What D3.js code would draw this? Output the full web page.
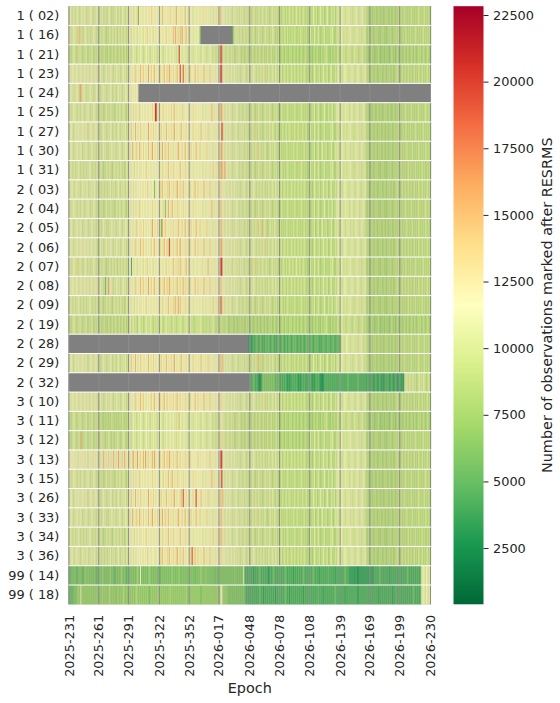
<!DOCTYPE html>
<html lang="en">
<head>
<meta charset="UTF-8">
<title>RESRMS heatmap</title>
<script src="https://d3js.org/d3.v7.min.js"></script>
<style>
  body { margin: 0; background: #fff; }
</style>
</head>
<body>
<script>
// rows of the heatmap (system ( prn))
const satellites = [
  "1 ( 02)", "1 ( 16)", "1 ( 21)", "1 ( 23)", "1 ( 24)", "1 ( 25)", "1 ( 27)", "1 ( 30)", "1 ( 31)",
  "2 ( 03)", "2 ( 04)", "2 ( 05)", "2 ( 06)", "2 ( 07)", "2 ( 08)", "2 ( 09)", "2 ( 19)", "2 ( 28)",
  "2 ( 29)", "2 ( 32)", "3 ( 10)", "3 ( 11)", "3 ( 12)", "3 ( 13)", "3 ( 15)", "3 ( 26)", "3 ( 33)",
  "3 ( 34)", "3 ( 36)", "99 ( 14)", "99 ( 18)"
];

const tickLabels = [
  "2025-231", "2025-261", "2025-291", "2025-322", "2025-352", "2026-017", "2026-048",
  "2026-078", "2026-108", "2026-139", "2026-169", "2026-199", "2026-230"
];

const firstYear = 2025, firstDoy = 231, nEpochs = 365;
const cbarTicks = [2500, 5000, 7500, 10000, 12500, 15000, 17500, 20000, 22500];
const vmin = 390, vmax = 22830;

// one letter per epoch, "." = no data
const levelKeys = "abcdefghijklmnopqrstuvwxyz";
const levelValues = [600, 1450, 2300, 3150, 4000, 4850, 5700, 6550, 7400, 8250, 9100, 9950, 10800,
  11650, 12600, 13900, 15300, 16300, 17200, 18000, 18700, 19400, 20100, 20800, 21500, 22300];

const rowCodes = [
  // 1 ( 02)
  "lmnkl mlknm lkmnl mnlkm lmnol kmlnm | lkmln klmkl mnlkl kmlnk lmkln mlkml | mnomn lonmp gnonm mnomn omnpo nmonm | nomnq mnonm onpmn omnrn mnomo nmqnm | mnonm lmnom nmomn pnmon mnomn lmnom | nmoqn mnmln mlnml knmlm lmknl mlkml | lkmlk pmlkl kmlkl mlklm kljkl mklkl | kjlkj klkjl jklkj lkjkm kjlkj klkjk | jkmik jnkjm ikjnk jmijk nkjim kjnik | lmklm nlmkl mlnkm lkmln mlkml nmlkm | jkijk jikjk ijkji kjijk jkijk ijkji | kjkjl kjklj kjkjk ljkjk jklkj kjklj kjkjk",
  // 1 ( 16)
  "lmlkm nlmkl pqmlk lmnlk mlkml nmlkl | klmkl mlkjl kmlkm lkmlj mlkml kmlkl | mnmln omnml nomnm lnomp nmonm lnomn | mnonm onmpn monmn qnrmo pnqmr nmoqn | mnomn lmnom nmg.. ..... ..... ..... | ..... ..... ..... fklml mlkml klmkl | lkmlk lmkjl kmlkl jklmk lkjlk mlkjk | jkljk kjlkj ljkjk kjlkj jkjlk kjkjl | ijkmj kinkj jmkij kjnik jkimj nkjik | lkmln mlkml kmlnl mkllm lnkml kmlml | ijkji kjijk jkiji kjkij ijkjk jikjk | kjlkj jkkjl kjkjl jkjkl kjkjk jkljk jkjkj",
  // 1 ( 21)
  "kljkl mlkjl kmlkj lkmlj klkml jklkl | jkljk kljkj lkjkl jklkj kljkl jkljk | lmlkm nlmkl mlnml klmnl mlkml nlmlk | mlnml kmlnm lmnlm nlmkm lxnml mnlml | lmnlm kmlnm lmlkm nlmlk mlnml kmlkl | lmlxs lmlkl mlklm kljkl kmlkj lkjkl | kjlkj lkjkl jklkj kljkj lkjkl jkjkl | jkjij kjikj jikjk ijkji kjijk jijkj | ijkij hjkij kijhk jikjl kijhk jikji | kljkl mklkj lkmkl jklmk lkjlk mlkjl | ijhij kijhj ijkih jijhk ijihj kjijh | jkijk jijkj ikjij kjikj ijkjk ijkji jkjij",
  // 1 ( 23)
  "mnlmn olmnm lmnol mnmln olmnm lnmol | lmnlm klmnl mlnml kmlnm lmklm nlmkl | nmonm nopmn onqno pnomn rnopn mqnon | onpno mqnop nrmon pnomq nmxno vnpmo | nopmn onqnm pnomn oqnmo nmpon mnomn | nmnzs nmnml nmlmn lmnlm lmlkm lnmlk | lmlkm lnmlk mlkml pmlkl kmlkl mlkml | kljkl jklkj lkjkl kjlkj kljkl jklkj | jkmjk ijnkj kjmik jnkjk mijkn jkimj | lmnlm klmnl mlkml nlmkl mnlmk lmlnm | jkjik jkijk jijkj kijkj ikjkj jkijk | kljkj kljkl jkljk kjklj kjlkj kljkj kljkl",
  // 1 ( 24)
  "lmnlm kmlnm lqrml nmlkm lmnlm klmnl | mlkml nlmkl mlnmk lmlkm nlmlk mlnml | mnomn mnonm ..... ..... ..... ..... | ..... ..... ..... ..... ..... ..... | ..... ..... ..... ..... ..... ..... | ..... ..... ..... ..... ..... ..... | ..... ..... ..... ..... ..... ..... | ..... ..... ..... ..... ..... ..... | ..... ..... ..... ..... ..... ..... | ..... ..... ..... ..... ..... ..... | ..... ..... ..... ..... ..... ..... | ..... ..... ..... ..... ..... ..... .....",
  // 1 ( 25)
  "lmlkm nlmkl mlknm lkmln mlkml nmlkl | kmlkl jklmk lkmlk ljkml kmlkl mlkjl | mnomn lnomn mponm nomnm onmnp nmxvo | nmonm pnomn monpn mqnom nomnp monmn | nmomn pnmon mnonm lnmon mnomq nmonm | nmnrq nmlmn lmnml kmlmn mlkml klmlk | lkmlk mlkjl kmlkl jklmk lkmlk jklkl | kjkjl kjkjk lkjkj kjlkj jkjkl kjkjk | jkmij kjnik jmkij kjnkj imjkj nikjm | lmnkl mlknm lmlkm nlkml mnlkm lmnlk | jkijk ijkji jkjik jijkj kijkj ijkji | kjkjl jkjkl kjkjk ljkjk jkljk jkjkl kjkjk",
  // 1 ( 27)
  "lmnml kmnlm nlmon mlnmk lmnom lmnml | lmklm nlmkl mlnmk lmlkm nlkml mlnkl | mnopn mnqnm onpmn omnon rnmon pnomn | onmpn omnqn monpn mrnom nomqn monpn | nomnm pnomn monqn mnomn pmonm nomnm | nmnmx qnmln mlnml kmlnm lkmlm lmkml | lkmlk mlkpl kmlkl jklmk lkmlk mlkjl | kjlkj lkjkl jklkj kjlkj kljkj lkjkl | ijkmj kinkj jmkij kjnik jkimj nkjik | lkmln mlkml kmlnl mklkm lnkml kmlml | jkjik jkijk jikjk ijkji kjikj kijkj | kjlkj jkkjl kjkjl jkjkl kjkjk jkljk jkjkj",
  // 1 ( 30)
  "mlnml kmlnm lmnlk mlnml kmlnm lmlkm | lmlkm nlmkl kmlnm lmlkm lnmlk mlnml | nmonq mnopm nqmon pnmon qnmor nmonp | nomnr nopmn qnomn pnmon rmnop nmqno | mnopn monqm nopmn monmp nomnm lnomn | nmnqr nmlmn lmnlm kmlmn lmkml mlkml | klmlk mlkml pkmlk lkmlk jklmk lkmlk | kjklj kjkjl kjkjk jlkjk ljkjk jkljk | jkmij kjnij kmjik njkjm ijkjn kijmk | mlkml nlmkl mlnkl mlkmn lmlkm nlmkl | jkjik jkijk jikjk ijkji kjikj kijkj | kjkjl kjkjk lkjkj kljkj kjlkj kjkjl kjkjk",
  // 1 ( 31)
  "klmlk mlkml nlkml kmlkm lnmlk mlkml | lkmlk jlkml kmlkj lmlkm lkmlk ljkml | mnmon mlnom nmomn onmpn mnomn omnom | nomnp mnomn qnomn pmnon mnqnm onpmn | mnomn lmnom nmonm lnmon mnomn pmnom | nmnrq pnrmn mlnml kmlmn mlkml klmlk | lkmlk mlkjl kmlkl jklmk lkmlk jklkl | jkjkl kjkjk lkjkj kjlkj jkjkl kjkjk | ijkmj kinkj jmkij kjnik jkimj nkjik | lkmln mlkml kmlnl mklkm lnkml kmlml | ijkji kjijk jkiji kjkij ijkjk jikjk | jkjkl kjkjk jkljk kjkjl jkjkj kljkj jkjkj",
  // 2 ( 03)
  "lmlnm klmnl mlkmn lmlnm kmlnl mnlkm | lmlkm lkmlk mlnkm lmklm nlkml mlkml | mnomn lnomn mnonm onmnp mnomn ngomn | nopmq nomnp mqnon pnomr nmpon qnomn | nopmn omqnm pnomn oqnmo nmpon mnomn | nmnpo nmnml nmlmn lmnlm lmlkm lnmlk | lmlkm lnmlk mlkml kmlkl kmlkl mlkml | kljkl jklkj lkjkl kjlkj kljkl jklkj | jkmjk ijnkj kjmik jnkjk mijkn jkimj | lmnlm klmnl mlkml nlmkl mnlmk lmlnm | jkjik jkijk jijkj kijkj ikjkj jkijk | kljkj kljkl jkljk kjklj kjlkj kljkj kljkl",
  // 2 ( 04)
  "mlkml nlmkl mlknm lkmln mlkml nmlkl | kmlkl jklmk lkmlk ljkml kmlkl mlkjl | mnomn lnomn mponm nomnm onmnp nmonm | nomnm pngmn rnomq nomnp monmn pnmon | nmomn pnmon mnonm lnmon mnomq nmonm | nmnqo nmlmn lmnml kmlmn mlkml klmlk | lkmlk mlkjl kmlkl jklmk lkmlk jklkl | kjkjl kjkjk lkjkj kjlkj jkjkl kjkjk | jkmij kjnik jmkij kjnkj imjkj nikjm | lmnkl mlknm lmlkm nlkml mnlkm lmnlk | ijkji kjijk jkiji kjkij ijkjk jikjk | kjkjl jkjkl kjkjk ljkjk jkljk jkjkl kjkjk",
  // 2 ( 05)
  "mlnml kmlnm lmnlk mlnml kmlnm lmlkm | lmlkm nlmkl kmlnm lmlkm lnmlk mlnml | nmonm mnopm nomon pnmon mnmor nmonp | nomgr nopmn onomn pnmon qmnop nmqno | mnopn monqm nopmn monmp nomnm lnomn | nmnqp nmlmn lmnlm kmlmn lmkml mlkml | klmlk mlkml pkmlk qlmlk jklmk lkmlk | kjklj kjkjl kjkjk jlkjk ljkjk jkljk | jkmij kjnij kmjik njkjm ijkjn kijmk | mlkml nlmkl mlnkl mlkmn lmlkm nlmkl | jkjik jkijk jikjk ijkji kjikj kijkj | kjkjl kjkjk lkjkj kljkj kjlkj kjkjl kjkjk",
  // 2 ( 06)
  "lmnlm kmlnm lmnol mnmln olmnm lnmlk | lmnlm klmnl mlnml kmlnm lmklm nlmkl | nmonm nopmn onqno pnomn mnopn mqnon | onpno mqnop nxmon pnomq nmrno onpmo | nopmn onqnm pnomn oqnmo nmpon mnomn | nmnrq nmnml nmlmn lmnlm lmlkm lnmlk | lmlkm lnmlk mlkml pmlkl kmlkl mlkml | kljkl jklkj lkjkl kjlkj kljkl jklkj | jkmjk ijnkj kjmik jnkjk mijkn jkimj | lmnlm klmnl mlkml nlmkl mnlmk lmlnm | jkjik jkijk jijkj kijkj ikjkj jkijk | kljkj kljkl jkljk kjklj kjlkj kljkj kljkl",
  // 2 ( 07)
  "lmlkm nlmkl pmmlk lmnlk mlkml nmlkl | klmkl mlkjl kmlkm lkmlj mlkml kmlkl | mnmen omnml nomnm lnomp nmonm lnomn | mnonm onmpn monmn qnomo pnqmo nmoqn | mnomn lmnom mnonl mnomn qmnom nmonm | nmnxw mnmln mlnml knmlm lmknl mlkml | lkmlk pmlkl kmlkl mlklm kljkl mklkl | kjlkj klkjl jklkj lkjkm kjlkj klkjk | ijkmj kinkj jmkij kjnik jkimj nkjik | lkmln mlkml kmlnl mkllm lnkml kmlml | ijkji kjijk jkiji kjkij ijkjk jikjk | kjlkj jkkjl kjkjl jkjkl kjkjk jkljk jkjkj",
  // 2 ( 08)
  "mnlmn olmnm lmnol mnmln olmnm lnmol | lmnlm klfnl rmnml kmlnm lmklm nlmkl | nmonm nopmn onqno pnomn rnopn mqnon | onpno mqnop nrmon pnomq nmpno qnpmo | nopmn onqnm pnomn oqnmo nmpon mnomn | nmnqo nmnml nmlmn lmnlm lmlkm lnmlk | lmlkm lnmlk mlkml kmlkl kmlkl mlkml | kljkl jklkj lkjkl kjlkj kljkl jklkj | jkmjk ijnkj kjmik jnkjk mijkn jkimj | lmnlm klmnl mlkml nlmkl mnlmk lmlnm | jkjik jkijk jijkj kijkj ikjkj jkijk | kljkj kljkl jkljk kjklj kjlkj kljkj kljkl",
  // 2 ( 09)
  "klmlk mlkml nlkml kmlkm lnmlk mlkml | lkmlk jlkml kmlkj lmlkm lkmlk ljkml | mnmon mlnom nmomn onmpn mnomn omnom | nomnp mnomn qnomn pmqon rnqnm onpmn | mnomn lmnom nmonm lnmon mnomn pmnom | nmnvq nmlmn mlnml kmlmn mlkml klmlk | lkmlk mlkjl kmlkl jklmk lkmlk jklkl | jkjkl kjkjk lkjkj kjlkj jkjkl kjkjk | jkmij kjnik jmkij kjnkj imjkj nikjm | lkmln mlkml kmlnl mklkm lnkml kmlml | ijkji kjijk jkiji kjkij ijkjk jikjk | jkjkl kjkjk jkljk kjkjl jkjkj kljkj jkjkj",
  // 2 ( 19)
  "kljkl mlkjl kmlkj lkmlj klkml jklkl | jkljk kljkj lkjkl jklkj kljkl jkljk | klmkl mklkj lmlkl jklmk lkmlk jlklk | lklmk jklmk lkljk mkljk lkmlk jlkml | klmkl jkjlk lklmk jkljk lkjlk mlkjk | kljkl jkjkl jijkj kijkj ikjkj jkijk | jkijk jijkj ikjij kjikj ijkjk ijkji | jkjij kjikj jikjk ijkji kjijk jijkj | ijkij hjkij kijhk jikjl kijhk jikji | kljkl mklkj lkmkl jklmk lkjlk mlkjl | ijhij kijhj ijkih jijhk ijihj kjijh | jkijk jijkj ikjij kjikj ijkjk ijkji jkjij",
  // 2 ( 28)
  "..... ..... ..... ..... ..... ..... | ..... ..... ..... ..... ..... ..... | ..... ..... ..... ..... ..... ..... | ..... ..... ..... ..... ..... ..... | ..... ..... ..... ..... ..... ..... | ..... ..... ..... ..... ..... ..... | .dded efefg fefgf efegf fgfef gfefe | fgfef gfefg efgfe fgfgf efgef gfefg | fgefg fefgf gfefe fgffe gfgef fgfef | fgfek lmklm nlmkl mlnkm lkmln mlkml | jkijk jikjk ijkji kjijk jkijk ijkji | kjkjl kjklj kjkjk ljkjk jklkj kjklj kjkjk",
  // 2 ( 29)
  "lmnml kmnlm nlmon mlnmk lmnom lmnml | lmklm nlmkl mlnmk lmlkm nlkml mlnkl | mnopn mnqnm onpmn omnon qnmon pnomn | onmpn omnqn monpn mrnom nomqn monpn | nomnm pnomn monqn mnomn pmonm nomnm | nmnqo qnmln mlnml kmlnm lkmlm lmkml | lkmlk mlkml kqlkl jklmk lkmlk mlkjl | kjlkj lkjkl jklkj kjlkj kljkj lkjkl | jkmik jnkjm ikjnk jmijk nkjim kjnik | lmklm nlmkl mlnkm lkmln mlkml nmlkm | jkijk jikjk ijkji kjijk jkijk ijkji | kjkjl kjklj kjkjk ljkjk jklkj kjklj kjkjk",
  // 2 ( 32)
  "..... ..... ..... ..... ..... ..... | ..... ..... ..... ..... ..... ..... | ..... ..... ..... ..... ..... ..... | ..... ..... ..... ..... ..... ..... | ..... ..... ..... ..... ..... ..... | ..... ..... ..... ..... ..... ..... | ...fe fgfef edcde ghghg hghgh ghgfg | fgfef efefe dedee fefef edede fefee | efefe dedef efedd cdefe fefef efefe | fefgf efefe fgfef efefe fgfef efefe | efede fedef edefe dedef efede fedef | edefe dedkl mlkml kmlkl jklmk lkmlk jklkl",
  // 3 ( 10)
  "mnlmn olmnm lmnol mnmln olmnm lnmol | lmnlm klmnl mlnml kmlnm lmklm nlmkl | nmonm nopmn onqno pnomn mnopn mqnon | onpno mqnop nomon pnomq nmpno onpmo | nopmn onqnm pnomn oqnmo nmpon mnomn | nmnpo nmnml nmlmn lmnlm lmlkm lnmlk | lmlkm lnmlk mlkml pmlkl kmlkl mlkml | kljkl jklkj lkjkl kjlkj kljkl jklkj | jkmjk ijnkj kjmik jnkjk mijkn jkimj | lmnlm klmnl mlkml nlmkl mnlmk lmlnm | jkjik jkijk jijkj kijkj ikjkj jkijk | kljkj kljkl jkljk kjklj kjlkj kljkj kljkl",
  // 3 ( 11)
  "kljkl mlkjl kmlkj lkmlj klkml jklkl | kjlkj jkjkk jkjlk kjkjk jkkjl kjkjk | lmlkm nlmkl mlnml klmnl mlkml nlmlk | mlnml kmlnm lmnlm nlmkm lqnml mnlml | lmnlm kmlnm lmlkm nlmlk mlnml kmlkl | lmlon lmlkl mlklm kljkl kmlkj lkjkl | kjlkj lkjkl jklkj kljkj lkjkl jkjkl | jkjij kjikj jikjk ijkji kjijk jijkj | ijkij hjkij kijhk jikjl kijhk jikji | kljkl mklkj lkmkl jklmk lkjlk mlkjl | ijhij kijhj ijkih jijhk ijihj kjijh | jkijk jijkj ikjij kjikj ijkjk ijkji jkjij",
  // 3 ( 12)
  "kljkl mlkjl kmrkj lkmlj klkml jklkl | jklmk lkjlk mlkjl kjlkm lkjkl mlkjk | lmlkm nlmkl mlnml klmnl mlkml nlmlk | mlnml kmlnm lmnlm nlmkm lonml mnlml | lmnlm kmlnm lmlkm nlmlk mlnml kmlkl | lmlpo lmlkl mlklm kljkl kmlkj lkjkl | kjlkj lkjkl jklkj kljkj lkjkl jkjkl | jkjij kjikj jikjk ijkji kjijk jijkj | ijkmj kinkj jmkij kjnik jkimj nkjik | lkmln mlkml kmlnl mkllm lnkml kmlml | ijkji kjijk jkiji kjkij ijkjk jikjk | kjlkj jkkjl kjkjl jkjkl kjkjk jkljk jkjkj",
  // 3 ( 13)
  "mnonm nmonl mnonm nomnl mnonm onmnl | nmonm qnmon pnomn qnmon rnomp nqmon | nomnp qnomr nopnm qnrmo pnomq nromn | onpno mqnop nrmon pnomq nmpno onpmo | nopmn onmnm pnomn onnmo nmpon mnomn | nmnxv nmnml nmlmn lmnlm lmlkm lnmlk | lmlkm lnmlk mlkml kmlkl kmlkl mlkml | kljkl jklkj lkjkl kjlkj kljkl jklkj | jkmjk ijnkj kjmik jnkjk mijkn jkimj | lmnlm klmnl mlkml nlmkl mnlmk lmlnm | jkjik jkijk jijkj kijkj ikjkj jkijk | kljkj kljkl jkljk kjklj kjlkj kljkj kljkl",
  // 3 ( 15)
  "lmlkm nlmkl mlknm lkmln mlkml nmlkl | kmlkl jklmk lkmlk ljkml kmlkl mlkjl | mnomn lnomn mponm nomnm onmnp nmonm | nomnm pnomn qnomq nomnp monmn pnmon | nmomn pnmon mnonm lnmon mnomq nmonm | nmnqx nmlmn lmnml kmlmn mlkml klmlk | lkmlk mlkjl kmlkl jklmk lkmlk jklkl | kjkjl kjkjk lkjkj kjlkj jkjkl kjkjk | jkmij kjnik jmkij kjnkj imjkj nikjm | lmnkl mlknm lmlkm nlkml mnlkm lmnlk | jkijk ijkji jkjik jijkj kijkj ijkji | kjkjl jkjkl kjkjk ljkjk jkljk jkjkl kjkjk",
  // 3 ( 26)
  "lmnml kmnlm nlmon mlnmk lmnom lmnml | lmklm nlmkl mlnmk lmlkm nlkml mlnkl | mnopn mnqnm onpmn omnon rnmon pnomn | onmpn omnqn monpn mrnom nomqn wonpn | nomnm pnoxn monqn mnomn pmonm nomnm | nmnqo qnmln mlnml kmlnm lkmlm lmkml | lkmlk mlkml kmlkl jklmk lkmlk mlkjl | kjlkj lkjkl jklkj kjlkj kljkj lkjkl | jkmik jnkjm ikjnk jmijk nkjim kjnik | lmklm nlmkl mlnkm lkmln mlkml nmlkm | jkijk jikjk ijkji kjijk jkijk ijkji | kjkjl kjklj kjkjk ljkjk jklkj kjklj kjkjk",
  // 3 ( 33)
  "mlnml kmlnm lmnlk mlnml kmlnm lmlkm | lmlkm nlmkl kmlnm lmlkm lnmlk mlnml | nmonq mnopm nqmon pnmon qnmor nmonp | nomnr nopmn qnomn pnmon rmnop nmqno | mnopn monqm nopmn monmp nomnm lnomn | nmnqp nmlmn lmnlm kmlmn lmkml mlkml | klmlk mlkml pkmlk lkmlk jklmk lkmlk | kjklj kjkjl kjkjk jlkjk ljkjk jkljk | jkmij kjnij kmjik njkjm ijkjn kijmk | mlkml nlmkl mlnkl mlkmn lmlkm nlmkl | jkjik jkijk jikjk ijkji kjikj kijkj | kjkjl kjkjk lkjkj kljkj kjlkj kjkjl kjkjk",
  // 3 ( 34)
  "klmlk mlkml nlkml kmlkm lnmlk mlkml | lkmlk jlkml kmlkj lmlkm lkmlk ljkml | mnmon mlnom nmomn onmpn mnomn omnom | nomnp mnomn qnomn pmnon mnqnm onpmn | mnomn lmnom nmonm lnmon mnomn pmnom | nmnqp nmlmn mlnml kmlmn mlkml klmlk | lkmlk mlkjl kmlkl jklmk lkmlk jklkl | jkjkl kjkjk lkjkj kjlkj jkjkl kjkjk | ijkmj kinkj jmkij kjnik jkimj nkjik | lkmln mlkml kmlnl mklkm lnkml kmlml | ijkji kjijk jkiji kjkij ijkjk jikjk | jkjkl kjkjk jkljk kjkjl jkjkj kljkj jkjkj",
  // 3 ( 36)
  "lmlnm klmnl mlkmn lmlnm kmlnl mnlkm | lmlkm lkmlk mlnkm lmklm nlkml mlkml | mnomn lnomn mnonm onmnp mnomn nmomn | nopmq nomnp mqnon pnomr nmpon qnomn | nopmw omqnm pnomn oqnmo nmpon mnomn | nmnpo nmnml nmlmn lmnlm lmlkm lnmlk | lmlkm lnmlk mlkml kmlkl kmlkl mlkml | kljkl jklkj lkjkl kjlkj kljkl jklkj | jkmjk ijnkj kjmik jnkjk mijkn jkimj | lmnlm klmnl mlkml nlmkl mnlmk lmlnm | jkjik jkijk jijkj kijkj ikjkj jkijk | kljkj kljkl jkljk kjklj kjlkj kljkj kljkl",
  // 99 ( 14)
  "fgfhg ghgfg hghgf ghigh hghgh ghgfg | ghhgi hghgh ghigh gfghg hghih ghgfg | hghgh ghghi hgngh ghghg hihgh ghghg | ghfhg hghgh ghghi ghghg higgh ghghg | hghgh ghfhg hghih ghgig hghgh ghfhg | ghghg hghgh ghghg hgigh ghghg hnfef | efefe fdfef efgfe fefef edefe fgfef | efdfe fefgf efefe fdfef efefe fgfef | efefe fgfef efdfe fefef egefe fefdf | efefe fefgf efede dedde dcded edede | deded edefe fefgf efefe fefdf efefe | fefef efefe fgfef efefe fefef lmnml nmlmn",
  // 99 ( 18)
  "gfgfg ghghi ihnhi hihih ihihi hihih | ihihj hihih ijihi hihhi ihihi jihih | hihih ihiji hihih ihihi hghih ihihi | ihihi hihih ihjhi hihih ihihi hihjh | hihih ihihi hihgh ihihi hihih ihihi | ihinn hihih hghgh ghghg hghgh ghgfe | fefef efefe fegfe fdfef efefe fefdf | efefe fefgf efdfe fefef efefe fdfef | efefe fefef egefe fdfef efefe fefgf | efefe fefdf efefe fefef edefe fefef | efefe fefef efdfe fefef efefe fdfef | fefef efefe fefef efgfe fefef lmnml nmlmn"
];

// epoch labels YYYY-DOY
const epochs = [];
for (let i = 0, yr = firstYear, d = firstDoy; i < nEpochs; i++) {
  epochs.push(`${yr}-${String(d).padStart(3, "0")}`);
  d++;
  if (d > 365) { d = 1; yr++; }
}

const bad = [];
const cells = [];
satellites.forEach((sat, r) => {
  const code = rowCodes[r].replace(/[^a-z.]/g, "");
  if (code.length !== nEpochs) bad.push(`${sat}: ${code.length}`);
  for (let c = 0; c < Math.min(code.length, nEpochs); c++) {
    const ch = code[c];
    cells.push({ sat, epoch: epochs[c], value: ch === "." ? null : levelValues[levelKeys.indexOf(ch)] });
  }
});

const W = 560, H = 703;
const plotLeft = 68.5, plotRight = 431, plotTop = 6.2, plotBottom = 604.3;
const font = "'DejaVu Sans', sans-serif";
const textColor = "#262626";
const nanColor = "#808080";

const svg = d3.select("body").append("svg")
  .attr("width", W)
  .attr("height", H)
  .style("font-family", font);

const x = d3.scaleBand().domain(epochs).range([plotLeft, plotRight]);
const y = d3.scaleBand().domain(satellites).range([plotTop, plotBottom]);

// matplotlib RdYlGn_r
const rdylgn = ["#a50026", "#d73027", "#f46d43", "#fdae61", "#fee08b", "#ffffbf",
  "#d9ef8b", "#a6d96a", "#66bd63", "#1a9850", "#006837"].reverse();
const color = d3.scaleLinear()
  .domain(rdylgn.map((_, i) => vmin + i * (vmax - vmin) / (rdylgn.length - 1)))
  .range(rdylgn)
  .clamp(true);

// grey face behind the (slightly transparent) mesh, shows where data is missing
svg.append("rect")
  .attr("x", plotLeft)
  .attr("y", plotTop)
  .attr("width", plotRight - plotLeft)
  .attr("height", plotBottom - plotTop)
  .attr("fill", nanColor);

svg.append("g")
  .attr("opacity", 0.85)
  .selectAll("rect")
  .data(cells.filter(d => d.value !== null))
  .join("rect")
  .attr("x", d => x(d.epoch))
  .attr("y", d => y(d.sat))
  .attr("width", x.bandwidth() + 0.4)
  .attr("height", y.bandwidth())
  .attr("fill", d => color(d.value));

// grey lines at the epoch ticks
svg.append("g")
  .selectAll("line")
  .data(tickLabels)
  .join("line")
  .attr("x1", d => x(d) + x.bandwidth() / 2)
  .attr("x2", d => x(d) + x.bandwidth() / 2)
  .attr("y1", plotTop)
  .attr("y2", plotBottom)
  .attr("stroke", "#8c8c8c")
  .attr("stroke-width", 1);

// white separators between rows
svg.append("g")
  .selectAll("line")
  .data(satellites.slice(1))
  .join("line")
  .attr("x1", plotLeft)
  .attr("x2", plotRight)
  .attr("y1", d => y(d))
  .attr("y2", d => y(d))
  .attr("stroke", "#fff")
  .attr("stroke-width", 1);

// y axis
const yAxis = svg.append("g")
  .attr("transform", `translate(${plotLeft},0)`)
  .call(d3.axisLeft(y).tickSize(0).tickPadding(9.2));
yAxis.select(".domain").remove();
yAxis.selectAll("text")
  .attr("font-family", font)
  .attr("font-size", 12.9)
  .attr("fill", textColor);

// x axis
const xAxis = svg.append("g")
  .attr("transform", `translate(0,${plotBottom})`)
  .call(d3.axisBottom(x).tickValues(tickLabels).tickSize(0));
xAxis.select(".domain").remove();
xAxis.selectAll("text")
  .attr("font-family", font)
  .attr("font-size", 12.9)
  .attr("fill", textColor)
  .attr("text-anchor", "end")
  .attr("transform", "rotate(-90)")
  .attr("x", -10.5)
  .attr("y", 0)
  .attr("dy", "0.35em");

svg.append("text")
  .attr("x", (plotLeft + plotRight) / 2)
  .attr("y", 693)
  .attr("text-anchor", "middle")
  .attr("font-size", 14.4)
  .attr("fill", textColor)
  .text("Epoch");

// colour bar
const cbLeft = 453.5, cbRight = 483.5;
const defs = svg.append("defs");
const grad = defs.append("linearGradient")
  .attr("id", "cbar")
  .attr("x1", 0).attr("y1", 1)
  .attr("x2", 0).attr("y2", 0);
grad.selectAll("stop")
  .data(rdylgn)
  .join("stop")
  .attr("offset", (d, i) => i / (rdylgn.length - 1))
  .attr("stop-color", d => d);

svg.append("rect")
  .attr("x", cbLeft)
  .attr("y", plotTop)
  .attr("width", cbRight - cbLeft)
  .attr("height", plotBottom - plotTop)
  .attr("fill", "url(#cbar)");

const cbScale = d3.scaleLinear().domain([vmin, vmax]).range([plotBottom, plotTop]);
const cAxis = svg.append("g")
  .attr("transform", `translate(${cbRight},0)`)
  .call(d3.axisRight(cbScale).tickValues(cbarTicks).tickSize(5).tickPadding(4.5).tickFormat(d3.format("d")));
cAxis.select(".domain").remove();
cAxis.selectAll("line").attr("stroke", textColor).attr("stroke-width", 1);
cAxis.selectAll("text")
  .attr("font-family", font)
  .attr("font-size", 12.9)
  .attr("fill", textColor);

svg.append("text")
  .attr("transform", `translate(547,${(plotTop + plotBottom) / 2}) rotate(-90)`)
  .attr("text-anchor", "middle")
  .attr("dy", "0.35em")
  .attr("font-size", 14.4)
  .attr("fill", textColor)
  .text("Number of observations marked after RESRMS");

if (bad.length) throw new Error("row length mismatch: " + bad.join(", "));
</script>
</body>
</html>
